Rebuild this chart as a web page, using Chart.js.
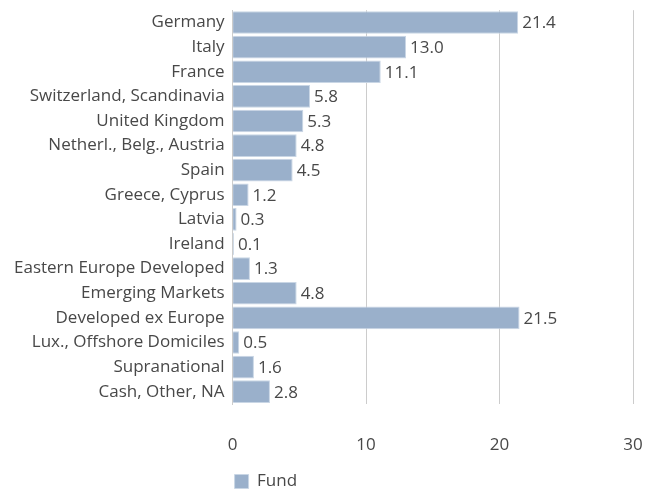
<!DOCTYPE html>
<html>
<head>
<meta charset="utf-8">
<script src="https://cdn.jsdelivr.net/npm/chart.js@4.4.1/dist/chart.umd.min.js"></script>
<style>
  html, body { margin: 0; padding: 0; background: #fff; }
  #wrap { width: 656px; height: 490px; }
</style>
</head>
<body>
<div id="wrap"><canvas id="myChart"></canvas></div>
<script>
const categories = [
    'Germany', 'Italy', 'France', 'Switzerland, Scandinavia', 'United Kingdom',
    'Netherl., Belg., Austria', 'Spain', 'Greece, Cyprus', 'Latvia', 'Ireland',
    'Eastern Europe Developed', 'Emerging Markets', 'Developed ex Europe',
    'Lux., Offshore Domiciles', 'Supranational', 'Cash, Other, NA'
];
const fundValues = [21.4, 13.0, 11.1, 5.8, 5.3, 4.8, 4.5, 1.2, 0.3, 0.1, 1.3, 4.8, 21.5, 0.5, 1.6, 2.8];
const xTicks = [0, 10, 20, 30];

const textColor = '#484848';
const barColor = '#9ab0cb';
const fontFamily = '"Open Sans", Lato, sans-serif';
const fontSize = 17;

// draws the value at the end of each bar
const valueLabels = {
    id: 'valueLabels',
    afterDatasetsDraw(chart) {
        const ctx = chart.ctx;
        ctx.save();
        ctx.font = fontSize + 'px ' + fontFamily;
        ctx.fillStyle = textColor;
        ctx.textBaseline = 'middle';
        ctx.textAlign = 'left';
        chart.getDatasetMeta(0).data.forEach(function (bar, i) {
            ctx.fillText(fundValues[i].toFixed(1), bar.x + 4, bar.y + 1);
        });
        ctx.restore();
    }
};

var ctx = document.getElementById('myChart').getContext('2d');

new Chart(ctx, {
    type: 'bar',
    data: {
        labels: categories,
        datasets: [{
            label: 'Fund',
            data: fundValues,
            backgroundColor: barColor,
            borderColor: '#c9d6e5',
            borderWidth: 1,
            categoryPercentage: 0.92,
            barPercentage: 1.0
        }]
    },
    options: {
        indexAxis: 'y',
        responsive: true,
        maintainAspectRatio: false,
        animation: false,
        layout: { padding: { top: 1, right: 23, left: 14, bottom: -10 } },
        scales: {
            x: {
                min: 0,
                max: 30,
                afterBuildTicks: function (axis) {
                    axis.ticks = xTicks.map(v => ({ value: v }));
                },
                afterFit: function (axis) {
                    axis.height = 67;
                },
                grid: { color: '#cccccc', lineWidth: 1, drawTicks: true, tickLength: 31, tickColor: 'rgba(0,0,0,0)' },
                border: { display: false },
                ticks: {
                    color: textColor,
                    font: { family: fontFamily, size: fontSize },
                    padding: 0
                }
            },
            y: {
                grid: { display: false, drawTicks: true, tickLength: 8, tickColor: 'rgba(0,0,0,0)' },
                border: { display: true, color: '#cccccc' },
                ticks: {
                    color: textColor,
                    font: { family: fontFamily, size: fontSize },
                    padding: 0
                }
            }
        },
        plugins: {
            legend: {
                position: 'bottom',
                align: 'start',
                fullSize: false,
                labels: {
                    color: textColor,
                    font: { family: fontFamily, size: fontSize },
                    boxWidth: 14,
                    boxHeight: 14,
                    padding: 2
                }
            },
            tooltip: { enabled: false }
        }
    },
    plugins: [valueLabels]
});
</script>
</body>
</html>
